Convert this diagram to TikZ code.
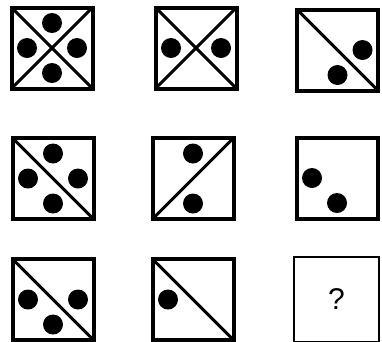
\documentclass[tikz,border=0pt]{standalone}
\usepackage{fontspec}
\setmainfont{Liberation Sans}
\usetikzlibrary{calc}
\tikzset{
cell/.style={draw,line width=4pt,minimum size=81pt,inner sep=0pt,outer sep=0pt},
qcell/.style={draw,line width=2pt,minimum size=85pt,inner sep=0pt,outer sep=0pt,font=\fontsize{30}{30}\selectfont},
diag/.style={line width=3pt},
dot/.style={circle,fill,minimum size=20pt,inner sep=0pt}
}

\begin{document}
\begin{tikzpicture}[x=1pt,y=-1pt]
\useasboundingbox (0,0) rectangle (382,341);
% row 1
\node[cell] (c1) at (52,48) {};
\node[cell] (c2) at (196,48) {};
\node[cell] (c3) at (337.5,50) {};
% row 2
\node[cell] (c4) at (53,178.5) {};
\node[cell] (c5) at (193,178.5) {};
\node[cell] (c6) at (337,178) {};
% row 3
\node[cell] (c7) at (53,299.5) {};
\node[cell] (c8) at (193,299.5) {};
\node[qcell] (c9) at (336.5,299) {?};
% diagonals
\draw[diag] (c1.north west)--(c1.south east) (c1.north east)--(c1.south west);
\draw[diag] (c2.north west)--(c2.south east) (c2.north east)--(c2.south west);
\draw[diag] (c3.north west)--(c3.south east);
\draw[diag] (c4.north west)--(c4.south east);
\draw[diag] (c5.south west)--(c5.north east);
\draw[diag] (c7.north west)--(c7.south east);
\draw[diag] (c8.north west)--(c8.south east);
% dots
\node[dot] (c1t) at ($(c1)+(0,-25)$) {};
\node[dot] (c1l) at ($(c1)+(-25,0)$) {};
\node[dot] (c1r) at ($(c1)+(25,0)$) {};
\node[dot] (c1b) at ($(c1)+(0,25)$) {};
\node[dot] (c2l) at ($(c2)+(-25,0)$) {};
\node[dot] (c2r) at ($(c2)+(25,0)$) {};
\node[dot] (c3r) at ($(c3)+(25,0)$) {};
\node[dot] (c3b) at ($(c3)+(0,25)$) {};
\node[dot] (c4t) at ($(c4)+(0,-25)$) {};
\node[dot] (c4l) at ($(c4)+(-25,0)$) {};
\node[dot] (c4r) at ($(c4)+(25,0)$) {};
\node[dot] (c4b) at ($(c4)+(0,25)$) {};
\node[dot] (c5t) at ($(c5)+(0,-25)$) {};
\node[dot] (c5b) at ($(c5)+(0,25)$) {};
\node[dot] (c6l) at ($(c6)+(-25,0)$) {};
\node[dot] (c6b) at ($(c6)+(0,25)$) {};
\node[dot] (c7l) at ($(c7)+(-25,0)$) {};
\node[dot] (c7r) at ($(c7)+(25,0)$) {};
\node[dot] (c7b) at ($(c7)+(0,25)$) {};
\node[dot] (c8l) at ($(c8)+(-25,0)$) {};
\end{tikzpicture}
\end{document}
